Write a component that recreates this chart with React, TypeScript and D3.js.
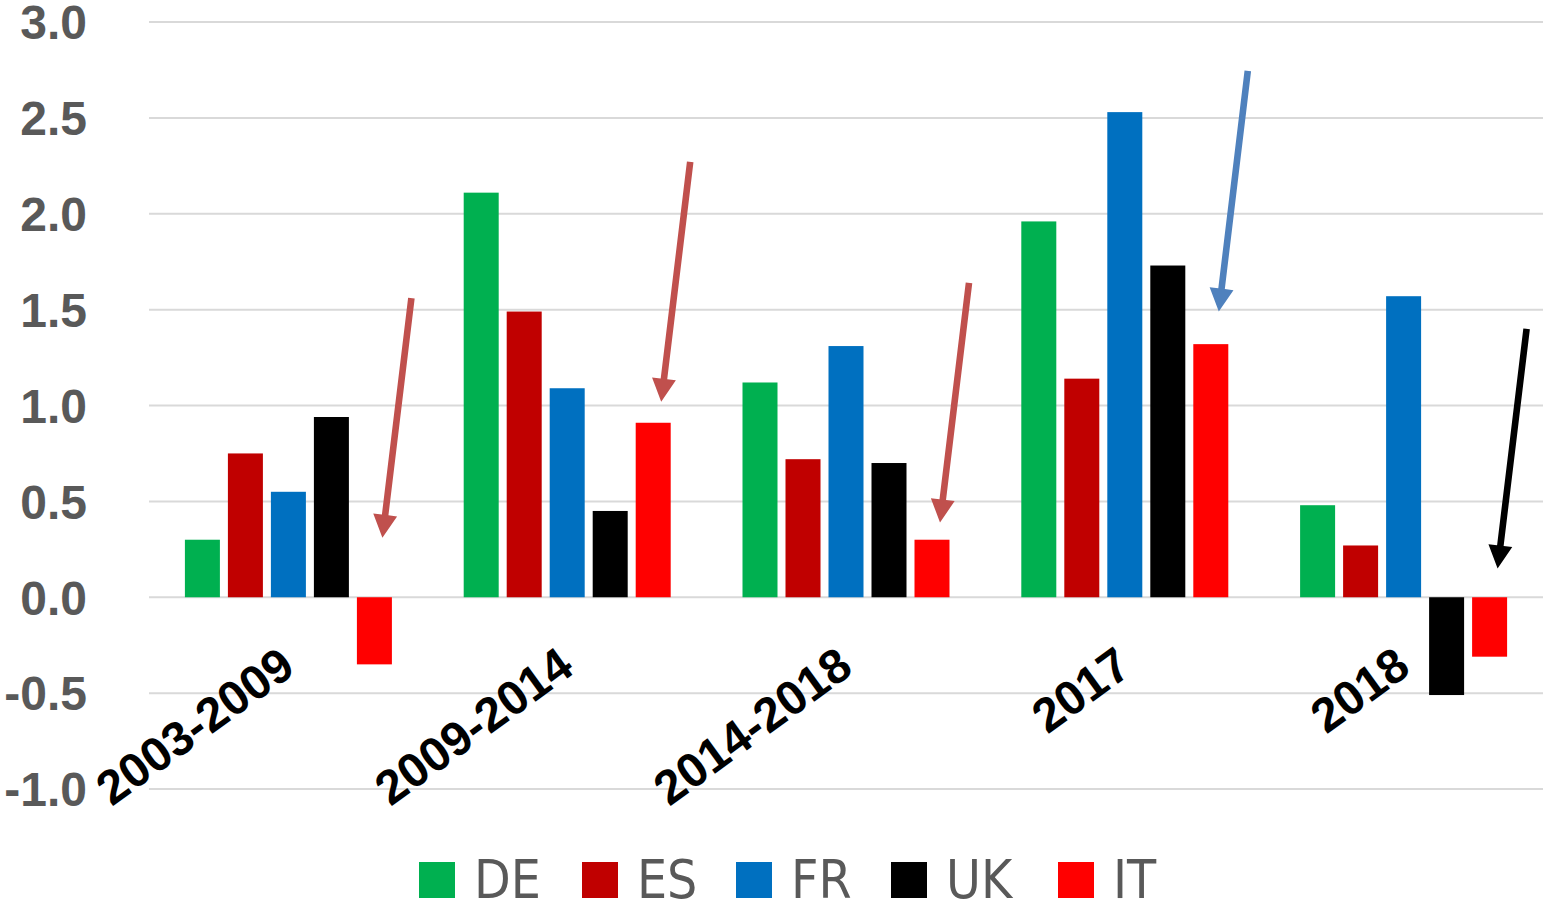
import React from "react";
import * as d3 from "d3";

const categories = ["2003-2009", "2009-2014", "2014-2018", "2017", "2018"];
const seriesNames = ["DE", "ES", "FR", "UK", "IT"];
const seriesColors = ["#00b050", "#c00000", "#0070c0", "#000000", "#ff0000"];

const DE = [0.3, 2.11, 1.12, 1.96, 0.48];
const ES = [0.75, 1.49, 0.72, 1.14, 0.27];
const FR = [0.55, 1.09, 1.31, 2.53, 1.57];
const UK = [0.94, 0.45, 0.7, 1.73, -0.51];
const IT = [-0.35, 0.91, 0.3, 1.32, -0.31];
const seriesValues = [DE, ES, FR, UK, IT];

const yTicks = [-1.0, -0.5, 0.0, 0.5, 1.0, 1.5, 2.0, 2.5, 3.0];

// annotation arrows (one per category), values in data units
const arrowTailY = [1.56, 2.27, 1.64, 2.745, 1.4];
const arrowTipY = [0.31, 1.02, 0.39, 1.49, 0.15];
const arrowColors = ["#c0504d", "#c0504d", "#c0504d", "#4f81bd", "#000000"];

const W = 1543;
const H = 907;
const plotLeft = 149;
const plotRight = 1543;
const yTop = 22;
const yBottom = 789;

const LEGEND_X = [419, 582, 736, 891, 1058];

function Arrow({ x1, y1, x2, y2, color }: { x1: number; y1: number; x2: number; y2: number; color: string }) {
  const dx = x2 - x1;
  const dy = y2 - y1;
  const len = Math.sqrt(dx * dx + dy * dy);
  const ux = dx / len;
  const uy = dy / len;
  const px = -uy;
  const py = ux;
  const headLen = 23;
  const headW = 12;
  const shaftW = 3.3;
  const bx = x2 - ux * headLen;
  const by = y2 - uy * headLen;
  const pts = [
    [x1 + px * shaftW, y1 + py * shaftW],
    [bx + px * shaftW, by + py * shaftW],
    [bx + px * headW, by + py * headW],
    [x2, y2],
    [bx - px * headW, by - py * headW],
    [bx - px * shaftW, by - py * shaftW],
    [x1 - px * shaftW, y1 - py * shaftW],
  ];
  return <polygon points={pts.map((p) => p.join(",")).join(" ")} fill={color} />;
}

export default function App() {
  const x0 = d3.scaleBand<string>().domain(categories).range([plotLeft, plotRight]).padding(0);
  const groupW = 207;
  const x1 = d3
    .scaleBand<string>()
    .domain(seriesNames)
    .range([0, groupW])
    .paddingInner(8 / 43)
    .paddingOuter(0);
  const y = d3.scaleLinear().domain([-1, 3]).range([yBottom, yTop]);
  const groupOffset = (x0.bandwidth() - groupW) / 2;

  const tickFont = "'Liberation Sans', Arial, sans-serif";

  return (
    <svg
      width={W}
      height={H}
      style={{ position: "absolute", left: 0, top: 0, background: "#fff" }}
    >
      {yTicks.map((t) => (
        <g key={t}>
          <line
            x1={plotLeft}
            x2={plotRight}
            y1={y(t)}
            y2={y(t)}
            stroke="#d9d9d9"
            strokeWidth={2}
          />
          <text
            x={87}
            y={y(t)}
            dy="0.36em"
            textAnchor="end"
            fontFamily={tickFont}
            fontWeight="bold"
            fontSize={48}
            fill="#595959"
          >
            {d3.format(".1f")(t).replace("−", "-")}
          </text>
        </g>
      ))}

      {categories.map((c, ci) => (
        <g key={c}>
          {seriesNames.map((s, si) => {
            const v = seriesValues[si][ci];
            const bx = (x0(c) as number) + groupOffset + (x1(s) as number);
            const top = y(Math.max(0, v));
            const h = Math.abs(y(v) - y(0));
            return (
              <rect
                key={s}
                x={bx}
                y={top}
                width={x1.bandwidth()}
                height={h}
                fill={seriesColors[si]}
              />
            );
          })}
        </g>
      ))}

      {categories.map((c, ci) => {
        const cx = (x0(c) as number) + x0.bandwidth() / 2;
        return (
          <text
            key={"lab" + c}
            transform={`translate(${cx + 9},${672}) rotate(-36)`}
            textAnchor="end"
            fontFamily={tickFont}
            fontWeight="bold"
            fontSize={48}
            fill="#000"
          >
            {c}
          </text>
        );
      })}

      {categories.map((c, ci) => {
        const cx = (x0(c) as number) + x0.bandwidth() / 2;
        return (
          <Arrow
            key={"arr" + c}
            x1={cx + 123}
            y1={y(arrowTailY[ci])}
            x2={cx + 94}
            y2={y(arrowTipY[ci])}
            color={arrowColors[ci]}
          />
        );
      })}

      {seriesNames.map((s, si) => (
        <g key={"leg" + s}>
          <rect x={LEGEND_X[si]} y={862} width={36} height={36} fill={seriesColors[si]} />
          <text
            x={LEGEND_X[si] + 55}
            y={898}
            fontFamily="'Liberation Sans Narrow', 'DejaVu Sans Condensed', 'Liberation Sans', sans-serif"
            fontSize={53}
            fill="#595959"
          >
            {s}
          </text>
        </g>
      ))}
    </svg>
  );
}
